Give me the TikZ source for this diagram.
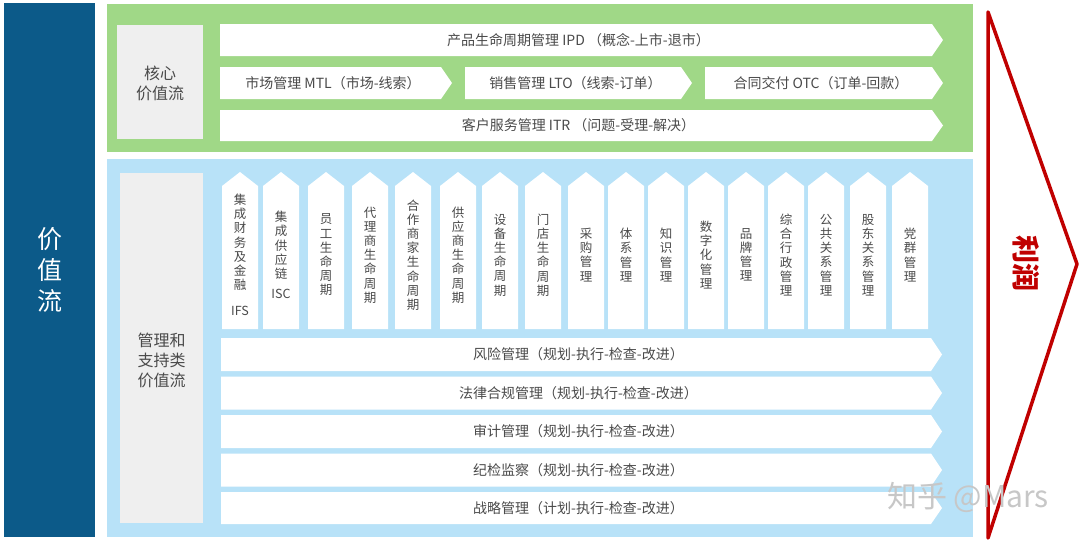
\documentclass[tikz,border=0pt]{standalone}
\usepackage{fontspec}
\setmainfont{Noto Sans CJK SC}
\definecolor{dblue}{HTML}{0C5A89}
\definecolor{gpanel}{HTML}{A0D887}
\definecolor{bpanel}{HTML}{B8E2F8}
\definecolor{lgray}{HTML}{EFEFEF}
\definecolor{txt}{HTML}{4A4A4A}
\definecolor{pred}{HTML}{C00000}
\newcommand{\harr}[6]{%
  \fill[arrowfill] (#2,#4) -- ({#3-11},#4) -- (#3,{(#4+#5)/2}) -- ({#3-11},#5) -- (#2,#5) -- cycle;
  \node[rowtext] (#1) at ({(#2+#3-6)/2},{(#4+#5)/2}) {#6};}
\newcommand{\varr}[3]{%
  \fill[arrowfill] (#2,329) -- (#2,186) -- ({#2+18},172) -- ({#2+36},186) -- ({#2+36},329) -- cycle;
  \node[coltext] (#1) at ({#2+18},255) {#3};}
\begin{document}
\begin{tikzpicture}[x=1pt,y=-1pt,
  arrowfill/.style={fill=white},
  rowtext/.style={font=\fontsize{14}{16}\selectfont, text=txt, inner sep=0pt},
  coltext/.style={font=\fontsize{12.5}{14.2}\selectfont, text=txt, align=center, inner sep=0pt},
  labtext/.style={font=\fontsize{16}{20}\selectfont, text=txt, align=center, inner sep=0pt},
  panelbox/.style={inner sep=0pt, outer sep=0pt},
  watermark/.style={font=\fontsize{30}{32}\selectfont, text=black!22, inner sep=0pt}]
\useasboundingbox (0,0) rectangle (1085,542);
\fill[white] (0,0) rectangle (1085,542);
% left bar
\node[panelbox, fill=dblue, minimum width=91, minimum height=534, text=white,
      font=\fontsize{25}{31}\selectfont, align=center] (vstream) at (49.5,270) {价\\值\\流};
% green panel
\node[panelbox, fill=gpanel, minimum width=866, minimum height=148] (corepanel) at (540,78) {};
\node[panelbox, fill=lgray, minimum width=86, minimum height=114] (corebox) at (160,82) {};
\node[labtext] (corelab) at (160,83) {核心\\价值流};
\harr{ipd}{220}{943}{24}{56}{产品生命周期管理 IPD （概念-上市-退市）}
\harr{mtl}{220}{452}{67}{99}{市场管理 MTL（市场-线索）}
\harr{lto}{465}{692}{67}{99}{销售管理 LTO（线索-订单）}
\harr{otc}{705}{943}{67}{99}{合同交付 OTC（订单-回款）}
\harr{itr}{220}{943}{110}{141}{客户服务管理 ITR （问题-受理-解决）}
% blue panel
\node[panelbox, fill=bpanel, minimum width=866, minimum height=378] (supppanel) at (540,348) {};
\node[panelbox, fill=lgray, minimum width=83, minimum height=350] (suppbox) at (161.5,348) {};
\node[labtext] (supplab) at (161.5,360) {管理和\\支持类\\价值流};
\varr{c1}{222}{集\\成\\财\\务\\及\\金\\融\\[12pt]IFS}
\varr{c2}{263}{集\\成\\供\\应\\链\\[6pt]ISC}
\varr{c3}{308}{员\\工\\生\\命\\周\\期}
\varr{c4}{352}{代\\理\\商\\生\\命\\周\\期}
\varr{c5}{395}{合\\作\\商\\家\\生\\命\\周\\期}
\varr{c6}{440}{供\\应\\商\\生\\命\\周\\期}
\varr{c7}{482}{设\\备\\生\\命\\周\\期}
\varr{c8}{525}{门\\店\\生\\命\\周\\期}
\varr{c9}{568}{采\\购\\管\\理}
\varr{c10}{608}{体\\系\\管\\理}
\varr{c11}{648}{知\\识\\管\\理}
\varr{c12}{688}{数\\字\\化\\管\\理}
\varr{c13}{728}{品\\牌\\管\\理}
\varr{c14}{768}{综\\合\\行\\政\\管\\理}
\varr{c15}{808}{公\\共\\关\\系\\管\\理}
\varr{c16}{850}{股\\东\\关\\系\\管\\理}
\varr{c17}{892}{党\\群\\管\\理}
\harr{risk}{221}{942}{338}{371}{风险管理（规划-执行-检查-改进）}
\harr{legal}{221}{942}{376.5}{409.5}{法律合规管理（规划-执行-检查-改进）}
\harr{audit}{221}{942}{415}{448}{审计管理（规划-执行-检查-改进）}
\harr{disc}{221}{942}{453.5}{486.5}{纪检监察（规划-执行-检查-改进）}
\harr{strat}{221}{942}{492}{524}{战略管理（计划-执行-检查-改进）}
% profit triangle
\coordinate (ptop) at (988,12);
\coordinate (ptip) at (1077,264);
\coordinate (pbot) at (988,538);
\draw[pred, line width=3.5pt, line join=round] (ptop) -- (ptip) -- (pbot) -- cycle;
\node[text=pred, font=\fontsize{28}{30}\selectfont\bfseries, rotate=-90, inner sep=0pt] (profit) at (1026,263) {利润};
% watermark
\node[watermark] (wm) at (968,497) {知乎 @Mars};
\end{tikzpicture}
\end{document}
